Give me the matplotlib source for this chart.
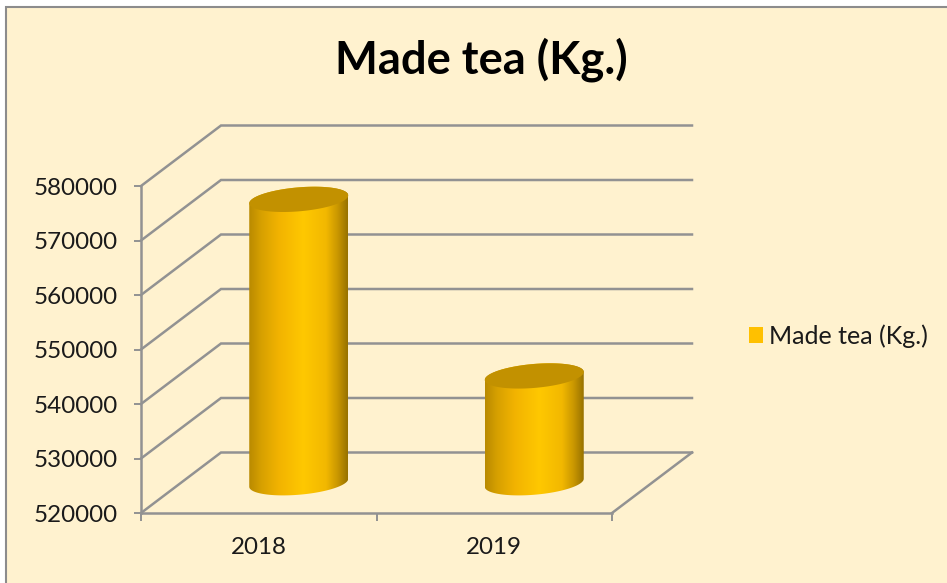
import numpy as np
import matplotlib
matplotlib.use('Agg')
from matplotlib import pyplot as plt
from matplotlib.colors import LinearSegmentedColormap
from matplotlib.patches import Polygon, Rectangle, Patch

categories = ['2018', '2019']
made_tea = [572000, 539600]
y_ticks = [520000, 530000, 540000, 550000, 560000, 570000, 580000]
series_name = 'Made tea (Kg.)'

W, H = 947, 583
BG = '#FFF2CF'
GRID = '#929292'

plt.rcParams['font.family'] = ['Lato', 'DejaVu Sans']

fig = plt.figure(figsize=(W / 100, H / 100), dpi=100, facecolor='white')
fig.add_artist(Rectangle((6 / W, -0.01), 1.01, 1 - 7 / H + 0.01, transform=fig.transFigure,
                         fc=BG, ec='#8C8C8C', lw=1.5, zorder=-1))

# front plane of the 3d box: x 141..612 px, y 186..513 px
ax = fig.add_axes([141 / W, 1 - 513 / H, 471 / W, 327 / H])
ax.patch.set_alpha(0)
ax.set_xlim(0, 2)
ax.set_ylim(520000, 580000)

px_x = 2 / 471
px_y = 60000 / 327
depth_x = 80 * px_x
depth_y = 60.5 * px_y

for v in y_ticks:
    ax.plot([0, depth_x, 2 + depth_x], [v, v + depth_y, v + depth_y], color=GRID, lw=1.8,
            clip_on=False, zorder=1, solid_joinstyle='miter')
ax.plot([2, 2 + depth_x], [520000, 520000 + depth_y], color=GRID, lw=1.8, clip_on=False, zorder=1)

for s in ['top', 'right']:
    ax.spines[s].set_visible(False)
for s in ['left', 'bottom']:
    ax.spines[s].set_color(GRID)
    ax.spines[s].set_linewidth(1.8)

ax.set_yticks(y_ticks)
ax.set_yticklabels([str(v) for v in y_ticks], fontsize=17.4, color='#1A1A1A')
ax.tick_params(axis='y', length=5, width=1.4, color=GRID, pad=12)
ax.set_xticks([0, 1, 2])
ax.set_xticklabels([])
ax.tick_params(axis='x', which='major', length=6, width=1.4, color=GRID)
ax.set_xticks([0.5, 1.5], minor=True)
ax.set_xticklabels(categories, minor=True, fontsize=17.4, color='#1A1A1A')
ax.tick_params(axis='x', which='minor', length=0, pad=17)

cyl = LinearSegmentedColormap.from_list('cyl', [
    (0.0, '#B98A00'), (0.12, '#D6A000'), (0.3, '#F2B300'), (0.55, '#FFC800'),
    (0.78, '#F2B800'), (0.9, '#C89600'), (1.0, '#977200')])
grad = np.linspace(0, 1, 256).reshape(1, -1)

half_w = 49.5 * px_x
rad_y = 12 * px_y
tilt = 4 * px_y


def ring(xc, yc, t):
    return xc + half_w * np.cos(t), yc + rad_y * np.sin(t) + tilt * np.cos(t)


for i, val in enumerate(made_tea):
    # bars stand halfway along the depth of the box
    xc = i + 0.5 + depth_x / 2
    y0 = 520000 + depth_y / 2
    y1 = val + depth_y / 2
    xb, yb = ring(xc, y0, np.linspace(np.pi, 2 * np.pi, 60))
    xt, yt = ring(xc, y1, np.linspace(0, np.pi, 60))
    body = Polygon(np.column_stack([np.r_[xb, xt], np.r_[yb, yt]]), closed=True,
                   transform=ax.transData, fc='none', ec='none')
    ax.add_patch(body)
    im = ax.imshow(grad, cmap=cyl, aspect='auto', zorder=3, interpolation='bilinear',
                   extent=[xc - half_w, xc + half_w, y0 - 2 * rad_y, y1 + 2 * rad_y])
    im.set_clip_path(body)
    xr, yr = ring(xc, y1, np.linspace(0, 2 * np.pi, 120))
    ax.fill(xr, yr, color='#C29100', zorder=4, lw=0, clip_on=False)

ax.set_xlim(0, 2)
ax.set_ylim(520000, 580000)

fig.text(481 / W, 1 - 60 / H, series_name, ha='center', va='center', fontsize=32.7,
         fontweight='bold', color='black')

fig.legend(handles=[Patch(fc='#FFC000', ec='none', label=series_name)], loc='center left',
           bbox_to_anchor=(749 / W, 1 - 336 / H), frameon=False, fontsize=18,
           borderaxespad=0, borderpad=0,
           handlelength=0.56, handleheight=0.56, handletextpad=0.25, labelcolor='#1A1A1A')

fig.savefig('out.png', dpi=100, facecolor='white')
